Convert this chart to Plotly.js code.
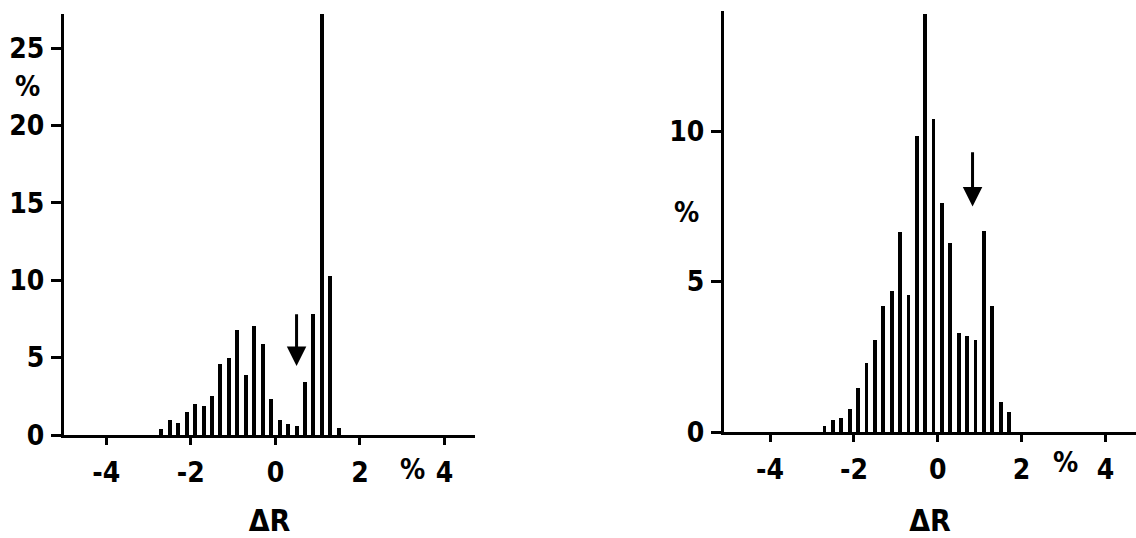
<!DOCTYPE html>
<html>
<head>
<meta charset="utf-8">
<script src="https://cdn.plot.ly/plotly-3.0.1.min.js"></script>
<style>html,body{margin:0;padding:0;background:#fff;}#chart{width:1136px;height:538px;}</style>
</head>
<body>
<div id="chart"></div>
<script>
// Left histogram: deviation ΔR (%) vs share (%)
const xLeft = [-2.7,-2.5,-2.3,-2.1,-1.9,-1.7,-1.5,-1.3,-1.1,-0.9,-0.7,-0.5,-0.3,-0.1,0.1,0.3,0.5,0.7,0.9,1.1,1.3,1.5];
const hLeft = [0.4,1.0,0.8,1.5,2.0,1.9,2.5,4.6,5.0,6.8,3.9,7.05,5.9,2.3,0.95,0.7,0.6,3.4,7.8,27.2,10.3,0.45];
// Right histogram
const xRight = [-2.7,-2.5,-2.3,-2.1,-1.9,-1.7,-1.5,-1.3,-1.1,-0.9,-0.7,-0.5,-0.3,-0.1,0.1,0.3,0.5,0.7,0.9,1.1,1.3,1.5,1.7];
const hRight = [0.2,0.4,0.45,0.75,1.45,2.3,3.05,4.2,4.7,6.65,4.55,9.85,13.9,10.4,7.6,6.3,3.3,3.2,3.05,6.7,4.2,1.0,0.65];
// Tick labels
const xTickVals = [-4,-2,0,2,4];
const xTickText = ["-4","-2","0","2","4"];
const yTickValsLeft = [0,5,10,15,20,25];
const yTickValsRight = [0,5,10];
const unitLabel = "%";
const axisLabel = "ΔR";

const FONT = "DejaVu Sans Condensed, DejaVu Sans, sans-serif";
const tickFont = {family: FONT, size: 28, color: "#000", weight: "bold"};

const traces = [
  {type:"bar", x:xLeft, y:hLeft, xaxis:"x", yaxis:"y", width:0.095,
   marker:{color:"#000", line:{width:0}}, hoverinfo:"x+y", showlegend:false},
  {type:"bar", x:xRight, y:hRight, xaxis:"x2", yaxis:"y2", width:0.09,
   marker:{color:"#000", line:{width:0}}, hoverinfo:"x+y", showlegend:false}
];

const W = 1136, H = 538;
const px = v => v / W, py = v => (H - v) / H;

function xAxis(domain, range, anchor) {
  return {
    domain: domain, range: range, anchor: anchor,
    showline: true, linewidth: 3, linecolor: "#000",
    showgrid: false, zeroline: false,
    ticks: "outside", ticklen: 7, tickwidth: 3, tickcolor: "#000",
    tickvals: xTickVals, ticktext: xTickText, tickfont: tickFont,
    ticklabelstandoff: 3,
    title: {text: axisLabel, font: {family: FONT, size: 30, color: "#000", weight: "bold"}, standoff: 28},
    automargin: false, fixedrange: true
  };
}
function yAxis(domain, range, anchor, vals) {
  return {
    domain: domain, range: range, anchor: anchor,
    showline: true, linewidth: 3, linecolor: "#000",
    showgrid: false, zeroline: false,
    ticks: "outside", ticklen: 10, tickwidth: 3, tickcolor: "#000",
    tickvals: vals, ticktext: vals.map(String), tickfont: tickFont,
    ticklabelstandoff: 1,
    automargin: false, fixedrange: true
  };
}

const layout = {
  width: W, height: H,
  margin: {l:0, r:0, t:0, b:0},
  paper_bgcolor: "#fff", plot_bgcolor: "#fff",
  bargap: 0,
  xaxis: xAxis([px(64), px(475)], [-5.0, 4.72], "y"),
  yaxis: yAxis([py(435), py(14)], [0, 27.2], "x", yTickValsLeft),
  xaxis2: xAxis([px(724), 1], [-5.1, 4.73], "y2"),
  yaxis2: yAxis([py(432), py(11)], [0, 14.0], "x2", yTickValsRight),
  annotations: [
    {xref:"x", yref:"paper", x:3.25, y:py(469), text:unitLabel, showarrow:false, font:tickFont, xanchor:"center", yanchor:"middle"},
    {xref:"x2", yref:"paper", x:3.05, y:py(463), text:unitLabel, showarrow:false, font:tickFont, xanchor:"center", yanchor:"middle"},
    {xref:"paper", yref:"y", x:px(27), y:22.5, text:unitLabel, showarrow:false, font:tickFont, xanchor:"center", yanchor:"middle"},
    {xref:"paper", yref:"y2", x:px(686), y:7.3, text:unitLabel, showarrow:false, font:tickFont, xanchor:"center", yanchor:"middle"},
    {xref:"x", yref:"y", axref:"x", ayref:"y", x:0.5, y:4.45, ax:0.5, ay:7.9, text:"", showarrow:true,
     arrowhead:2, arrowsize:1.3, arrowwidth:3, arrowcolor:"#000"},
    {xref:"x2", yref:"y2", axref:"x2", ayref:"y2", x:0.83, y:7.5, ax:0.83, ay:9.35, text:"", showarrow:true,
     arrowhead:2, arrowsize:1.3, arrowwidth:3, arrowcolor:"#000"}
  ]
};

Plotly.newPlot("chart", traces, layout, {displayModeBar:false, staticPlot:true});
</script>
</body>
</html>
